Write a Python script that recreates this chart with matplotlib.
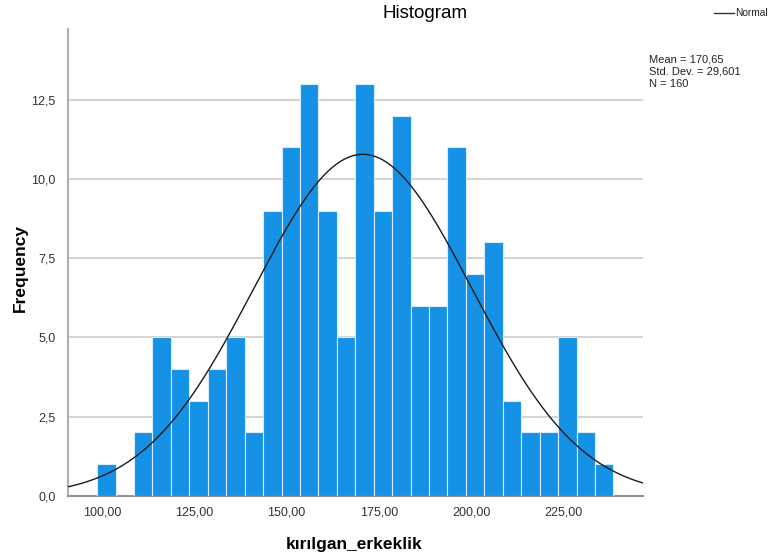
import numpy as np
import matplotlib
matplotlib.use("Agg")
import matplotlib.pyplot as plt

plt.rcParams['font.family'] = ['Liberation Sans', 'DejaVu Sans']

bin_start = 98.6
bin_width = 5.0
counts = [1, 0, 2, 5, 4, 3, 4, 5, 2, 9, 11, 13, 9, 5, 13, 9, 12, 6, 6, 11, 7, 8, 3, 2, 2, 5, 2, 1]
mean = 170.65
sd = 29.601
n = 160
xticks = [100, 125, 150, 175, 200, 225]
xticklabels = ["100,00", "125,00", "150,00", "175,00", "200,00", "225,00"]
yticks = [0, 2.5, 5, 7.5, 10, 12.5]
yticklabels = ["0,0", "2,5", "5,0", "7,5", "10,0", "12,5"]

fig = plt.figure(figsize=(7.7, 5.6), dpi=100)
ax = fig.add_axes([68.3/770, 1-495.7/560, (643-68.3)/770, (495.7-29.3)/560])

edges = bin_start + bin_width*np.arange(len(counts)+1)
ax.bar(edges[:-1], counts, width=bin_width, align='edge', color='#1591E6',
       edgecolor='#d8ecfb', linewidth=0.8, zorder=3)

xlo, xhi = 90.8, 246.6
xs = np.linspace(xlo, xhi, 400)
ys = n*bin_width/(sd*np.sqrt(2*np.pi))*np.exp(-0.5*((xs-mean)/sd)**2)
ax.plot(xs, ys, color='#1a1a1a', linewidth=1.0, zorder=4)

ax.set_xlim(xlo, xhi)
ax.set_ylim(0, 14.73)
ax.set_xticks(xticks)
ax.set_xticklabels(xticklabels)
ax.set_yticks(yticks)
ax.set_yticklabels(yticklabels)
ax.tick_params(length=0, labelsize=9, colors='#333333')
ax.tick_params(axis='y', pad=9)
ax.tick_params(axis='x', pad=8)
for y in yticks[1:]:
    ax.axhline(y, color='#d4d4d4', linewidth=1.5, zorder=1)
for s in ['top', 'right']:
    ax.spines[s].set_visible(False)
ax.spines['left'].set_color('#b0b0b0')
ax.spines['left'].set_linewidth(1.5)
ax.spines['bottom'].set_color('#909090')
ax.spines['bottom'].set_linewidth(1.5)
ax.set_facecolor('white')

fig.text(354/770, 1-545/560, "kırılgan_erkeklik", ha='center', va='center',
         fontsize=12.5, fontweight='bold')
fig.text(20/770, 1-268/560, "Frequency", ha='center', va='center', rotation=90,
         fontsize=12.5, fontweight='bold')

fig.text(425/770, 1-14/560, "Histogram", ha='center', va='center', fontsize=13.5)
fig.add_artist(matplotlib.lines.Line2D([714/770, 734/770], [1-13/560, 1-13/560],
                                       color='#333333', linewidth=1.0))
fig.text(735/770, 1-13/560, "Normal", ha='left', va='center', fontsize=7.3, color='#222222')
fig.text(649/770, 1-72/560, "Mean = 170,65\nStd. Dev. = 29,601\nN = 160", ha='left',
         va='center', fontsize=8, color='#222222', linespacing=1.25)

fig.savefig("out.png", dpi=100)
